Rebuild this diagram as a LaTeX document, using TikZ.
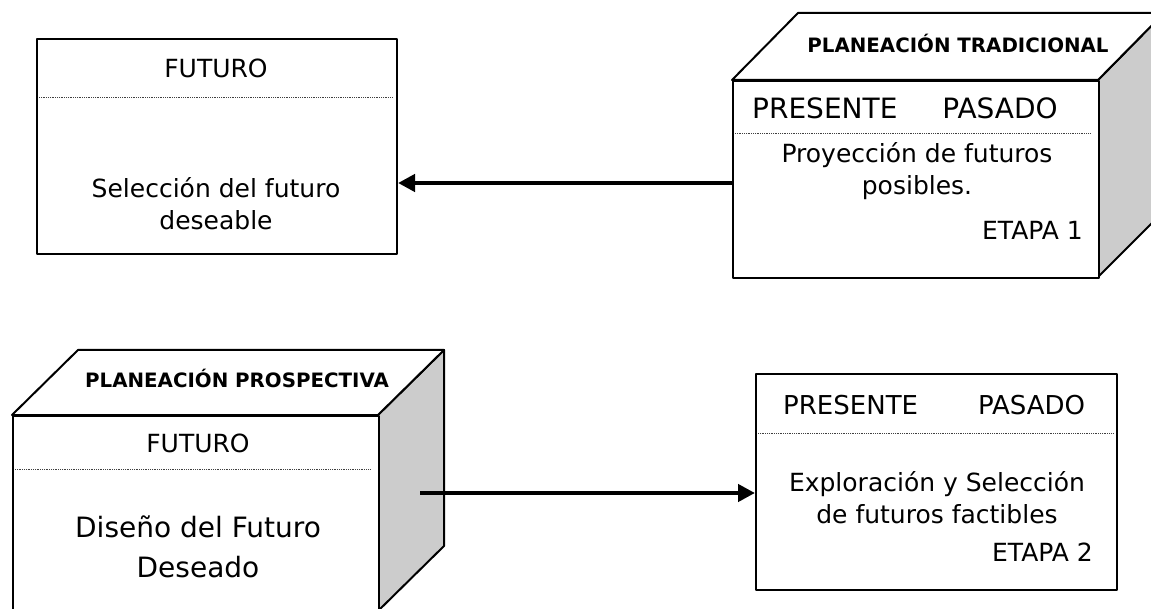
\documentclass[tikz,border=0pt]{standalone}
\usepackage{fontspec}
\setmainfont{DejaVu Sans}
\usetikzlibrary{arrows.meta,positioning}

\tikzset{
  face/.style={draw, line width=2pt, fill=white, inner sep=0pt},
  side/.style={draw, line width=2pt, fill=black!20},
  sep/.style={line width=0.8pt, black!75, dash pattern=on 0.9pt off 0.9pt},
  flow/.style={-{Triangle[length=17pt,width=17pt]}, line width=4.5pt},
  txt/.style={inner sep=0pt, font=\fontsize{25}{32}\selectfont},
  bigtxt/.style={inner sep=0pt, font=\fontsize{28}{40}\selectfont},
  title/.style={inner sep=0pt, font=\fontsize{19.8}{22}\selectfont\bfseries}
}

\begin{document}
\begin{tikzpicture}[x=1pt, y=-1pt, line join=round]
\clip (0,0) rectangle (1151,609);

% caja superior izquierda
\node[face, minimum width=360pt, minimum height=215pt, anchor=north west] (selbox) at (36,38) {};
\draw[sep] (39,97) -- (393,97);
\node[txt] (futA) at (216,68) {FUTURO};
\node[txt, align=center] (selA) at (216,204) {Selección del futuro\\deseable};

% cubo planeacion tradicional
\draw[side] (1098,80) -- (1164,13) -- (1164,211) -- (1098,277) -- cycle;
\draw[face] (732,80) -- (798,13) -- (1164,13) -- (1098,80) -- cycle;
\node[face, minimum width=366pt, minimum height=197pt, anchor=north west] (trad) at (732,80) {};
\node[title] (tradT) at (958,43) {PLANEACIÓN TRADICIONAL};
\node[bigtxt, anchor=west] (presT) at (752,108) {PRESENTE\hspace{45pt}PASADO};
\draw[sep] (735,133) -- (1091,133);
\node[txt, align=center] (proy) at (917,171) {Proyección de futuros\\posibles.};
\node[txt, anchor=east] (etapa1) at (1083,230) {ETAPA 1};

\draw[flow] ([yshift=-3.5pt]trad.west) -- ([yshift=-3.5pt]trad.west -| selbox.east);

% cubo planeacion prospectiva
\draw[side] (378,415) -- (444,350) -- (444,546) -- (378,611) -- cycle;
\draw[face] (12,415) -- (78,350) -- (444,350) -- (378,415) -- cycle;
\node[face, minimum width=366pt, minimum height=196pt, anchor=north west] (prosp) at (12,415) {};
\node[title] (prospT) at (237,378) {PLANEACIÓN PROSPECTIVA};
\node[txt] (futB) at (198,443) {FUTURO};
\draw[sep] (15,469) -- (370,469);
\node[bigtxt, align=center] (dis) at (198,547) {Diseño del Futuro\\Deseado};

% caja inferior derecha
\node[face, minimum width=361pt, minimum height=216pt, anchor=north west] (expbox) at (755,373) {};
\node[txt, anchor=west, font=\fontsize{26}{32}\selectfont] (presB) at (783,405) {PRESENTE\hspace{60pt}PASADO};
\draw[sep] (758,433) -- (1113,433);
\node[txt, align=center] (expl) at (937,498) {Exploración y Selección\\de futuros factibles};
\node[txt, anchor=east] (etapa2) at (1093,552) {ETAPA 2};

\coordinate (fstart) at (420,493);
\draw[flow] (fstart) -- (fstart -| expbox.west);
\end{tikzpicture}
\end{document}
